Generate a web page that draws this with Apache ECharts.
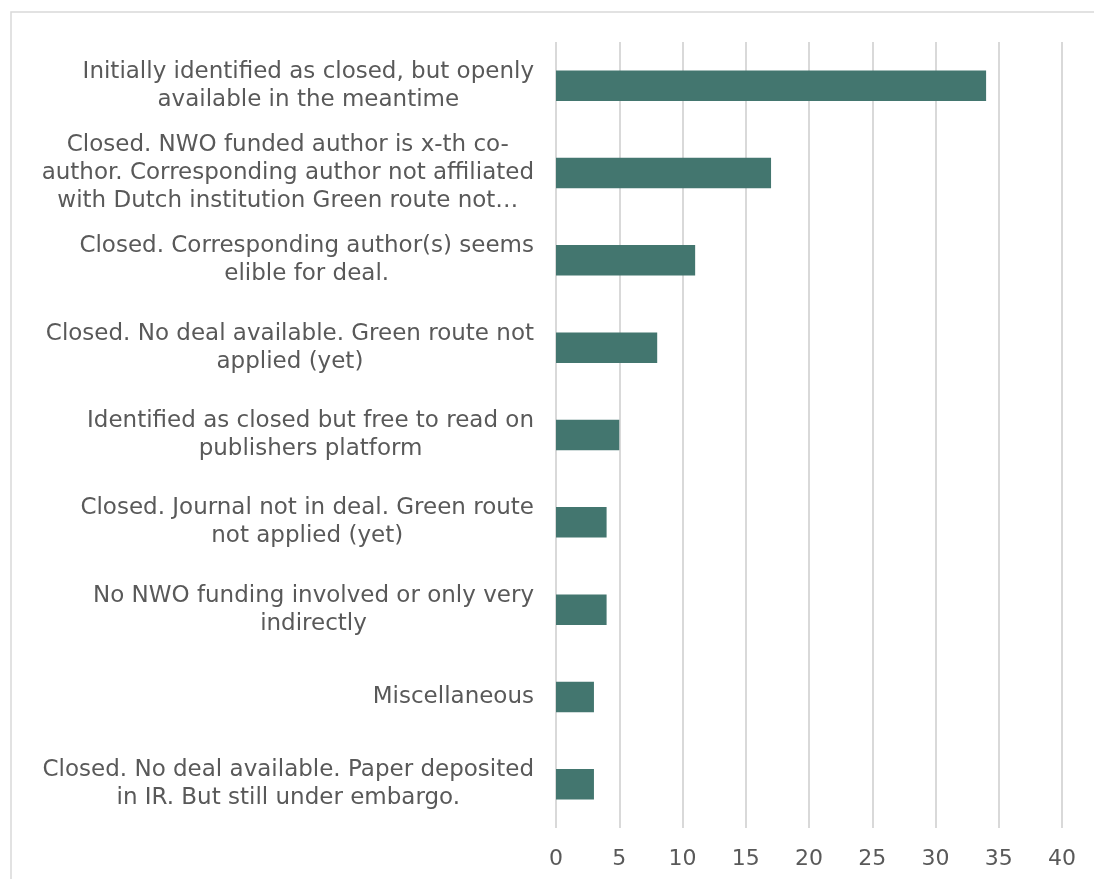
<!DOCTYPE html>
<html>
<head>
<meta charset="utf-8">
<script src="https://cdn.jsdelivr.net/npm/echarts@6/dist/echarts.min.js"></script>
<style>
  html, body { margin: 0; padding: 0; background: #fff; }
  #chart { width: 1094px; height: 879px; }
</style>
</head>
<body>
<div id="chart"></div>
<script>
// categories, top to bottom as shown
const categories = [
    'Initially identified as closed, but openly\navailable in the meantime',
    'Closed. NWO funded author is x-th co-\nauthor. Corresponding author not affiliated\nwith Dutch institution Green route not…',
    'Closed. Corresponding author(s) seems\nelible for deal.',
    'Closed. No deal available. Green route not\napplied (yet)',
    'Identified as closed but free to read on\npublishers platform',
    'Closed. Journal not in deal. Green route\nnot applied (yet)',
    'No NWO funding involved or only very\nindirectly',
    'Miscellaneous',
    'Closed. No deal available. Paper deposited\nin IR. But still under embargo.'
];
const counts = [34, 17, 11, 8, 5, 4, 4, 3, 3];
const xTicks = { min: 0, max: 40, interval: 5 };

const labelFont = {
    color: '#595959',
    fontFamily: 'DejaVu Sans',
    fontSize: 23,
    lineHeight: 28
};

const chart = echarts.init(document.getElementById('chart'));

const option = {
    animation: false,
    backgroundColor: '#fff',
    graphic: [{
        type: 'rect',
        shape: { x: 11, y: 12, width: 1200, height: 1000 },
        style: { fill: 'none', stroke: '#d9d9d9', lineWidth: 1.5 },
        silent: true
    }],
    grid: { left: 556, right: 32, top: 42, bottom: 51 },
    xAxis: {
        type: 'value',
        min: xTicks.min,
        max: xTicks.max,
        interval: xTicks.interval,
        axisLine: { show: false },
        axisTick: { show: false },
        splitLine: { lineStyle: { color: '#d9d9d9', width: 2 } },
        axisLabel: {
            color: '#595959',
            fontFamily: 'DejaVu Sans',
            fontSize: 22,
            margin: 20
        }
    },
    yAxis: {
        type: 'category',
        data: categories,
        inverse: true,
        axisLine: { show: false },
        axisTick: { show: false },
        axisLabel: Object.assign({}, labelFont, {
            align: 'right',
            margin: 22,
            // each line centred inside the right-aligned block
            formatter: (v) => v.split('\n').map(s => '{c|' + s + '}').join('\n'),
            rich: { c: Object.assign({ align: 'center' }, labelFont) }
        })
    },
    series: [{
        type: 'bar',
        data: counts,
        barWidth: '35%',
        itemStyle: { color: '#43766f' }
    }]
};

chart.setOption(option);
</script>
</body>
</html>
